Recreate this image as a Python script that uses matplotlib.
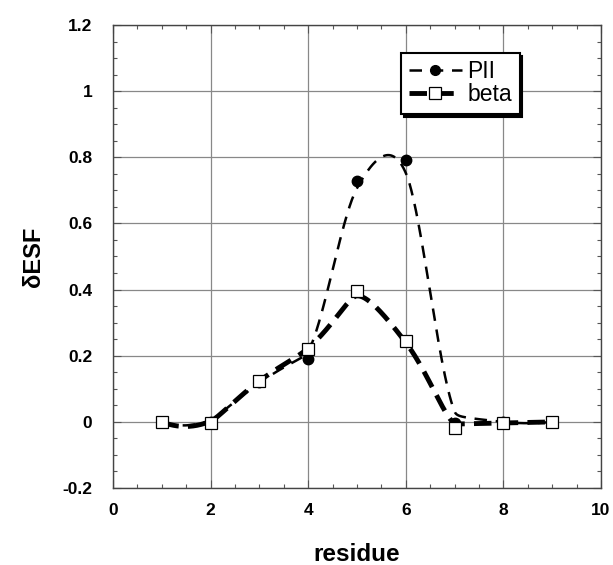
import numpy as np
import matplotlib
matplotlib.use("Agg")
import matplotlib.pyplot as plt
from matplotlib.ticker import MultipleLocator, FixedLocator

plt.rcParams['font.family'] = ['Liberation Sans', 'DejaVu Sans']

residue = [1, 2, 3, 4, 5, 6, 7, 8, 9]
pii = [0.0, 0.0, 0.12, 0.19, 0.728, 0.792, -0.005, 0.0, 0.0]
beta = [0.0, -0.004, 0.125, 0.219, 0.396, 0.245, -0.019, -0.003, 0.0]

xticks = [0, 2, 4, 6, 8, 10]
yticks = [-0.2, 0, 0.2, 0.4, 0.6, 0.8, 1, 1.2]
ytick_labels = ['-0.2', '0', '0.2', '0.4', '0.6', '0.8', '1', '1.2']


def presmooth(y, w):
    y = np.asarray(y, float)
    s = np.empty_like(y)
    s[1:-1] = (w * y[:-2] + y[1:-1] + w * y[2:]) / (1 + 2 * w)
    s[0] = (y[0] + w * y[1]) / (1 + w)
    s[-1] = (y[-1] + w * y[-2]) / (1 + w)
    return s


def stineman(x, y, npts=500):
    x = np.asarray(x, float)
    y = np.asarray(y, float)
    dx = np.diff(x)
    dy = np.diff(y)
    s = dy / dx
    yp = np.zeros_like(y)
    yp[1:-1] = (s[:-1] * dx[1:] + s[1:] * dx[:-1]) / (dx[1:] + dx[:-1])
    yp[0] = 2.0 * s[0] - yp[1]
    yp[-1] = 2.0 * s[-1] - yp[-2]
    xi = np.linspace(x[0], x[-1], npts)
    idx = np.clip(np.searchsorted(x, xi) - 1, 0, len(x) - 2)
    sidx = s[idx]
    x0 = x[idx]
    x1 = x[idx + 1]
    yo = y[idx] + sidx * (xi - x0)
    d1 = (yp[idx] - sidx) * (xi - x0)
    d2 = (yp[idx + 1] - sidx) * (xi - x1)
    p = d1 * d2
    out = yo.copy()
    pos = p > 0
    neg = p < 0
    out[pos] = yo[pos] + p[pos] / (d1[pos] + d2[pos])
    out[neg] = yo[neg] + p[neg] * (2 * xi[neg] - x0[neg] - x1[neg]) / ((d1[neg] - d2[neg]) * (x1[neg] - x0[neg]))
    return xi, out


fig = plt.figure(figsize=(6.13, 5.65), dpi=100)
ax = fig.add_axes([0.1843, 0.1363, 0.796, 0.8195])

W = 0.05
xs, ys = stineman(residue, presmooth(pii, W))
ax.plot(xs, ys, color='black', lw=1.8, dashes=(5, 3.5), zorder=3)
xs2, ys2 = stineman(residue, presmooth(beta, W))
ax.plot(xs2, ys2, color='black', lw=3.5, dashes=(3.6, 1.9), zorder=3)

ax.plot(residue, pii, 'o', color='black', ms=7.5, zorder=4)
ax.plot(residue, beta, 's', mfc='white', mec='black', mew=0.9, ms=9, zorder=5)

# legend proxies
h1, = ax.plot([], [], color='black', lw=1.8, dashes=(5, 3.5), marker='o', ms=7)
h2, = ax.plot([], [], color='black', lw=3.5, dashes=(3.6, 1.9), marker='s', mfc='white',
              mec='black', mew=0.9, ms=8.5)
leg = ax.legend([h1, h2], ['PII', 'beta'], loc='upper left', bbox_to_anchor=(0.591, 0.94),
                frameon=True, fancybox=False, shadow={'color': 'black', 'alpha': 1},
                fontsize=16.5, handlelength=2.3, handletextpad=0.25, borderpad=0.33,
                labelspacing=0.0, borderaxespad=0)
leg.get_frame().set_edgecolor('black')
leg.get_frame().set_linewidth(1.5)
leg.set_zorder(10)

ax.set_xlim(0, 10)
ax.set_ylim(-0.2, 1.2)
ax.xaxis.set_major_locator(FixedLocator(xticks))
ax.yaxis.set_major_locator(FixedLocator(yticks))
ax.set_yticklabels(ytick_labels)
ax.xaxis.set_minor_locator(MultipleLocator(0.5))
ax.yaxis.set_minor_locator(MultipleLocator(0.05))
ax.tick_params(which='both', direction='in', top=True, right=True, color='#555555')
ax.tick_params(which='major', length=6, width=0.8, labelsize=12.5)
ax.tick_params(axis='x', which='major', pad=11)
ax.tick_params(axis='y', which='major', pad=15)
ax.tick_params(which='minor', length=3, width=0.8)
for lab in ax.get_xticklabels() + ax.get_yticklabels():
    lab.set_fontweight('bold')
ax.grid(True, which='major', color='#888888', lw=0.9)
ax.set_axisbelow(True)
for s in ax.spines.values():
    s.set_color('#444444')
    s.set_linewidth(1.0)

ax.set_xlabel('residue', fontsize=17.5, fontweight='bold', labelpad=18)
ax.set_ylabel('δESF', fontsize=17, fontweight='bold', labelpad=12)

fig.savefig('out.png', dpi=100)
